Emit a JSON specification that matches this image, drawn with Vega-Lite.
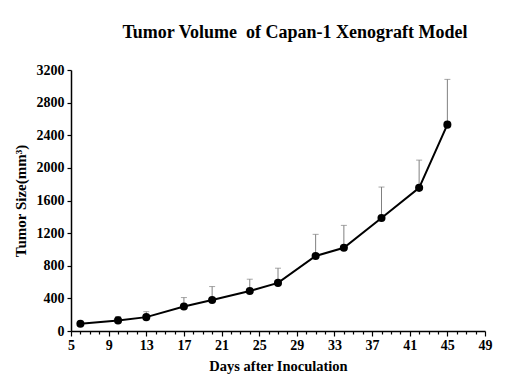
{
  "$schema": "https://vega.github.io/schema/vega-lite/v6.json",
  "autosize": {"type": "none"},
  "width": 414,
  "height": 261,
  "padding": {"left": 71, "top": 70, "right": 25, "bottom": 56},
  "background": "white",
  "config": {"view": {"stroke": null}},
  "title": {
    "text": "Tumor Volume \u00a0of Capan-1 Xenograft Model",
    "font": "Liberation Serif",
    "fontSize": 18,
    "fontWeight": "bold",
    "color": "#000000",
    "anchor": "middle",
    "dx": 17,
    "offset": 21
  },
  "data": {
    "values": [
      {"day": 6, "value": 90, "upper": 90},
      {"day": 10, "value": 130, "upper": 178},
      {"day": 13, "value": 170, "upper": 237},
      {"day": 17, "value": 300, "upper": 410},
      {"day": 20, "value": 380, "upper": 545},
      {"day": 24, "value": 490, "upper": 635},
      {"day": 27, "value": 590, "upper": 770},
      {"day": 31, "value": 920, "upper": 1185},
      {"day": 34, "value": 1020, "upper": 1295},
      {"day": 38, "value": 1385, "upper": 1765},
      {"day": 42, "value": 1755, "upper": 2095},
      {"day": 45, "value": 2530, "upper": 3085}
    ]
  },
  "encoding": {
    "x": {
      "field": "day",
      "type": "quantitative",
      "scale": {"domain": [5, 49], "nice": false, "zero": false},
      "axis": {
        "title": "Days after Inoculation",
        "values": [5,6,7,8,9,10,11,12,13,14,15,16,17,18,19,20,21,22,23,24,25,26,27,28,29,30,31,32,33,34,35,36,37,38,39,40,41,42,43,44,45,46,47,48,49],
        "labelExpr": "(datum.value - 5) % 4 === 0 ? datum.label : ''",
        "tickSize": {"condition": {"test": "(datum.value - 5) % 4 === 0", "value": 5}, "value": 3},
        "grid": false,
        "domainColor": "#000000",
        "domainWidth": 1.5,
        "tickColor": "#000000",
        "tickWidth": 1.2,
        "labelFont": "Liberation Serif",
        "labelFontWeight": "bold",
        "labelFontSize": 14,
        "labelColor": "#000000",
        "labelPadding": 2,
        "labelFlush": false,
        "labelOverlap": false,
        "titleFont": "Liberation Serif",
        "titleFontWeight": "bold",
        "titleFontSize": 14.5,
        "titleColor": "#000000",
        "titlePadding": 7
      }
    },
    "y": {
      "field": "value",
      "type": "quantitative",
      "scale": {"domain": [0, 3200], "nice": false},
      "axis": {
        "title": "Tumor Size(mm³)",
        "values": [0, 400, 800, 1200, 1600, 2000, 2400, 2800, 3200],
        "format": "d",
        "grid": false,
        "domainColor": "#000000",
        "domainWidth": 1.5,
        "tickColor": "#000000",
        "tickWidth": 1.2,
        "tickSize": 4,
        "labelFont": "Liberation Serif",
        "labelFontWeight": "bold",
        "labelFontSize": 14,
        "labelColor": "#000000",
        "labelPadding": 3,
        "labelFlush": false,
        "titleFont": "Liberation Serif",
        "titleFontWeight": "bold",
        "titleFontSize": 15,
        "titleColor": "#000000",
        "titlePadding": 8
      }
    }
  },
  "layer": [
    {
      "mark": {"type": "rule", "color": "#808080", "strokeWidth": 1},
      "encoding": {"y2": {"field": "upper"}}
    },
    {
      "mark": {"type": "tick", "orient": "horizontal", "color": "#808080", "size": 6, "thickness": 1},
      "encoding": {"y": {"field": "upper", "type": "quantitative"}}
    },
    {
      "mark": {"type": "line", "color": "#000000", "strokeWidth": 2},
      "encoding": {}
    },
    {
      "mark": {"type": "point", "filled": true, "color": "#000000", "size": 65, "opacity": 1},
      "encoding": {}
    }
  ]
}
